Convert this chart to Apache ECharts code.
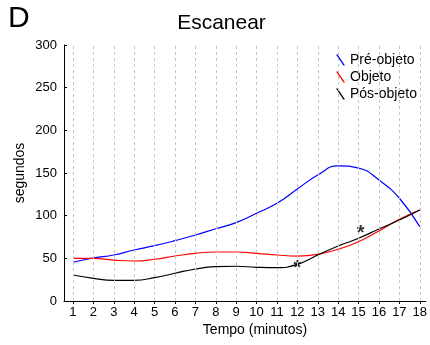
<!DOCTYPE html>
<html>
<head>
<meta charset="utf-8">
<script src="https://cdn.jsdelivr.net/npm/echarts@6/dist/echarts.min.js"></script>
<style>
  html, body { margin: 0; padding: 0; background: #fff; }
  #chart { width: 430px; height: 345px; }
</style>
</head>
<body>
<div id="chart"></div>
<script>
// Minutes of the session
var minutes = [1, 2, 3, 4, 5, 6, 7, 8, 9, 10, 11, 12, 13, 14, 15, 16, 17, 18];

// Time spent scanning (seconds) per minute, per phase
var preObjeto = [45.4, 50.4, 53.9, 59.8, 64.8, 70.7, 77.3, 84.7, 91.8, 102.8, 114.5, 131.3, 147.7, 158.4, 155.8, 141.8, 120.4, 87.1];
var objeto    = [50.0, 50.0, 48.0, 46.9, 48.9, 52.7, 55.9, 57.4, 57.4, 55.9, 53.9, 52.7, 54.7, 60.6, 69.5, 82.0, 95.7, 106.6];
var posObjeto = [30.5, 26.6, 24.2, 24.2, 27.3, 32.5, 37.5, 40.2, 40.7, 39.5, 39.0, 43.0, 53.9, 64.5, 73.5, 84.4, 94.9, 106.6];

// Significance markers (minute, seconds)
var starX = [12, 15.1];
var starY = [43.4, 84.4];

var yTicks = [0, 50, 100, 150, 200, 250, 300];
var seriesNames = ['Pré-objeto', 'Objeto', 'Pós-objeto'];
var seriesColors = ['#0000ff', '#ff0000', '#000000'];

var FONT = '"Liberation Sans", Arial, Helvetica, sans-serif';

function pairs(xs, ys) {
  return xs.map(function (x, i) { return [x, ys[i]]; });
}

var lineIcon = 'path://M0,0 L1.6,0 L9,11 L7.4,11 Z';

var chart = echarts.init(document.getElementById('chart'), null, { renderer: 'canvas' });

var series = [
  {
    // vertical dashed guides at each minute
    name: 'guides',
    type: 'line',
    data: [],
    silent: true,
    z: 1,
    markLine: {
      silent: true,
      symbol: ['none', 'none'],
      animation: false,
      label: { show: false },
      lineStyle: { color: '#c4c4c4', type: [3, 3], width: 1 },
      data: minutes.map(function (m) { return { xAxis: m }; })
    }
  }
];

[preObjeto, objeto, posObjeto].forEach(function (vals, i) {
  series.push({
    name: seriesNames[i],
    type: 'line',
    data: pairs(minutes, vals),
    smooth: 0.5,
    showSymbol: false,
    z: 3,
    lineStyle: { color: seriesColors[i], width: 1.2 },
    itemStyle: { color: seriesColors[i] }
  });
});

series.push({
  name: 'stars',
  type: 'scatter',
  data: pairs(starX, starY),
  symbolSize: 0,
  z: 4,
  label: {
    show: true,
    position: 'inside',
    formatter: '*',
    color: '#000',
    fontSize: 20,
    fontWeight: 'bold',
    fontFamily: FONT,
    offset: [0, 4.5]
  }
});

chart.setOption({
  animation: false,
  backgroundColor: '#fff',
  grid: { left: 64, right: 3, top: 45, bottom: 44 },
  xAxis: {
    type: 'value',
    min: 0.56,
    max: 18.3,
    axisLine: { show: true, lineStyle: { color: '#000', width: 1 } },
    axisTick: { show: true, length: 3, customValues: minutes, lineStyle: { color: '#000' } },
    axisLabel: { customValues: minutes, color: '#000', fontSize: 13, fontFamily: FONT, margin: 5 },
    splitLine: { show: false }
  },
  yAxis: {
    type: 'value',
    min: yTicks[0],
    max: yTicks[yTicks.length - 1],
    interval: 50,
    axisLine: { show: true, lineStyle: { color: '#000', width: 1 } },
    axisTick: { show: true, inside: true, length: 3, lineStyle: { color: '#000' } },
    axisLabel: { color: '#000', fontSize: 13, fontFamily: FONT, margin: 7 },
    splitLine: { show: false }
  },
  legend: {
    data: seriesNames.map(function (n) { return { name: n, icon: lineIcon }; }),
    orient: 'vertical',
    left: 336,
    top: 53,
    itemWidth: 9,
    itemHeight: 11,
    itemGap: 3,
    padding: 0,
    textStyle: { color: '#000', fontSize: 14, fontFamily: FONT, padding: [0, 0, 0, 0] }
  },
  graphic: [
    { type: 'text', left: 8, top: 4, style: { text: 'D', fontSize: 30, fontFamily: FONT, fill: '#000' } },
    { type: 'text', x: 221.5, y: 23.3, style: { text: 'Escanear', fontSize: 21, fontFamily: FONT, fill: '#000', align: 'center', verticalAlign: 'middle' } },
    { type: 'text', x: 20, y: 173, rotation: Math.PI / 2, style: { text: 'segundos', fontSize: 14, fontFamily: FONT, fill: '#000', align: 'center', verticalAlign: 'middle' } },
    { type: 'text', x: 255, y: 330, style: { text: 'Tempo (minutos)', fontSize: 14, fontFamily: FONT, fill: '#000', align: 'center', verticalAlign: 'middle' } }
  ],
  series: series
});
</script>
</body>
</html>
